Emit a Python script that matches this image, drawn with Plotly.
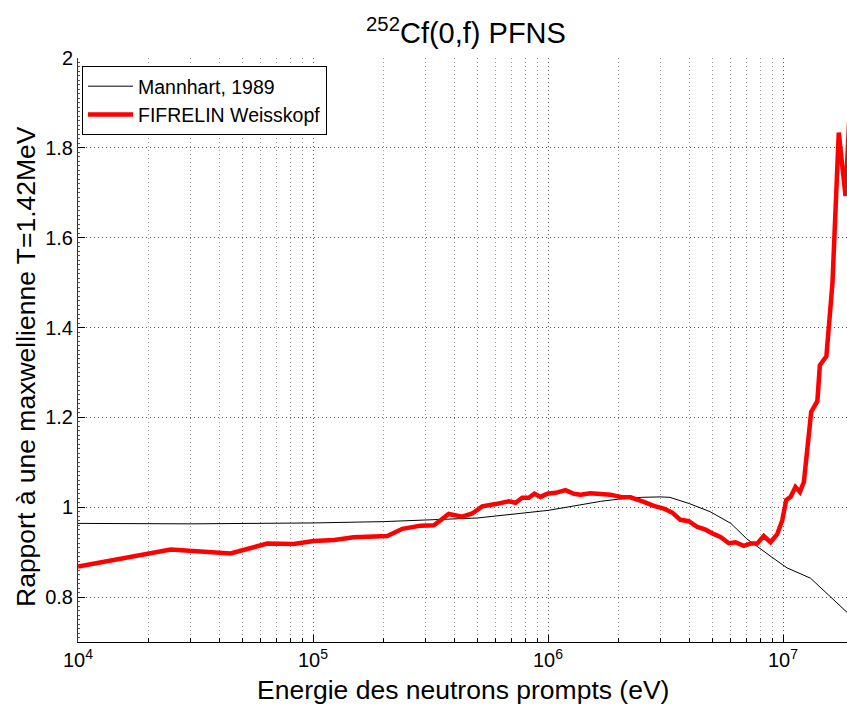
import plotly.graph_objects as go

# ---- data ----
mannhart_E = [1e4, 3e4, 1e5, 2e5, 5e5, 1e6, 1.2e6, 1.4e6, 1.67e6, 2e6, 2.5e6, 3e6, 3.3e6,
              4e6, 4.9e6, 6e6, 7e6, 8.9e6, 1.04e7, 1.31e7, 1.54e7, 1.88e7, 2.0e7]
mannhart_R = [0.964, 0.963, 0.965, 0.968, 0.976, 0.993, 1.000, 1.006, 1.013, 1.018, 1.022, 1.023, 1.022,
              1.008, 0.990, 0.964, 0.930, 0.890, 0.865, 0.842, 0.808, 0.767, 0.752]

fifrelin_E = [1.0e4, 2.48e4, 4.46e4, 6.38e4, 8.28e4, 1.007e5, 1.23e5, 1.49e5, 2.07e5, 2.40e5,
              2.87e5, 3.27e5, 3.78e5, 4.31e5, 4.76e5, 5.25e5, 5.98e5, 6.81e5, 7.27e5, 7.77e5,
              8.28e5, 8.76e5, 9.3e5, 9.93e5, 1.077e6, 1.187e6, 1.288e6, 1.375e6, 1.516e6, 1.672e6,
              1.845e6, 2.035e6, 2.244e6, 2.557e6, 2.82e6, 3.11e6, 3.38e6, 3.66e6, 3.97e6, 4.32e6,
              4.68e6, 5.08e6, 5.42e6, 5.88e6, 6.28e6, 6.81e6, 7.27e6, 7.76e6, 8.28e6, 8.85e6,
              9.45e6, 9.93e6, 1.032e7, 1.077e7, 1.13e7, 1.18e7, 1.227e7, 1.318e7, 1.40e7, 1.435e7,
              1.53e7, 1.624e7, 1.727e7, 1.845e7, 1.95e7]
fifrelin_R = [0.868, 0.906, 0.897, 0.919, 0.918, 0.925, 0.927, 0.933, 0.936, 0.952,
              0.959, 0.960, 0.985, 0.979, 0.986, 1.002, 1.007, 1.013, 1.010, 1.021,
              1.021, 1.030, 1.023, 1.030, 1.032, 1.038, 1.030, 1.028, 1.031, 1.030,
              1.028, 1.023, 1.022, 1.012, 1.003, 0.997, 0.988, 0.972, 0.969, 0.956,
              0.950, 0.940, 0.934, 0.920, 0.922, 0.914, 0.919, 0.919, 0.936, 0.922,
              0.940, 0.971, 1.016, 1.023, 1.045, 1.034, 1.056, 1.212, 1.236, 1.316,
              1.336, 1.50, 1.834, 1.693, 1.95]

x_tickvals = [1e4, 1e5, 1e6, 1e7]
x_ticktext = ["10<sup>4</sup>", "10<sup>5</sup>", "10<sup>6</sup>", "10<sup>7</sup>"]
x_minorvals = [k * 10 ** d for d in range(4, 8) for k in range(2, 10)]
y_tickvals = [0.8, 1.0, 1.2, 1.4, 1.6, 1.8, 2.0]
y_ticktext = ["0.8", "1", "1.2", "1.4", "1.6", "1.8", "2"]

FONT = "Liberation Sans, Arial, Helvetica, sans-serif"

fig = go.Figure()
fig.add_trace(go.Scatter(x=mannhart_E, y=mannhart_R, mode="lines", name="Mannhart, 1989",
                         line=dict(color="black", width=1)))
fig.add_trace(go.Scatter(x=fifrelin_E, y=fifrelin_R, mode="lines", name="FIFRELIN Weisskopf",
                         line=dict(color="#ff0000", width=4.5)))

W, H = 847, 706
L, T, B, R = 78, 58, 64, 0
PW, PH = W - L - R, H - T - B

fig.update_layout(
    width=W, height=H,
    margin=dict(l=L, r=R, t=T, b=B, pad=0),
    paper_bgcolor="white", plot_bgcolor="white",
    font=dict(family=FONT, color="black"),
    showlegend=True,
    legend=dict(x=(82 - L) / PW, y=1 - (66 - T) / PH, xanchor="left", yanchor="top",
                bgcolor="white", bordercolor="black", borderwidth=1,
                font=dict(size=19.5, family=FONT), itemwidth=45, tracegroupgap=0),
    title=dict(text="<sup>252</sup>Cf(0,f) PFNS", xref="paper", x=(466 - L) / PW, xanchor="center",
               yref="container", y=1 - 43 / H, yanchor="bottom",
               font=dict(size=29, family=FONT)),
)

fig.update_xaxes(
    type="log", range=[4, 4 + PW / 235.0],
    tickvals=x_tickvals, ticktext=x_ticktext,
    ticks="inside", ticklen=7, tickcolor="black", tickwidth=1,
    tickfont=dict(size=20, family=FONT),
    showline=True, linecolor="black", linewidth=1, mirror=False,
    showgrid=True, gridcolor="#555555", griddash="1px,3px", gridwidth=1,
    minor=dict(tickvals=x_minorvals, ticks="inside", ticklen=4, tickcolor="black",
               showgrid=True, gridcolor="#a0a0a0", griddash="1px,3px", gridwidth=1),
    zeroline=False,
)
fig.update_yaxes(
    range=[0.7, 2.0],
    tickvals=y_tickvals, ticktext=y_ticktext,
    ticks="inside", ticklen=7, tickcolor="black", tickwidth=1,
    tickfont=dict(size=20, family=FONT),
    showline=True, linecolor="#333333", linewidth=1, mirror=False,
    showgrid=True, gridcolor="#555555", griddash="1px,3px", gridwidth=1,
    minor=dict(dtick=0.01, ticks="inside", ticklen=2, tickcolor="#555555", showgrid=False),
    zeroline=False,
)

# axis titles as annotations for exact placement
fig.add_annotation(text="Energie des neutrons prompts (eV)", xref="paper", yref="paper",
                   x=(463 - L) / PW, y=-(690 - (H - B)) / PH,
                   xanchor="center", yanchor="middle", showarrow=False,
                   font=dict(size=26.5, family=FONT, color="black"))
fig.add_annotation(text="Rapport à une maxwellienne T=1.42MeV", xref="paper", yref="paper",
                   x=-(L - 26) / PW, y=((H - B) - 367) / PH,
                   xanchor="center", yanchor="middle", textangle=-90, showarrow=False,
                   font=dict(size=26.5, family=FONT, color="black"))

fig.write_html("out.html", config=dict(displayModeBar=False),
               post_script="document.body.style.margin='0';document.body.style.padding='0';")
